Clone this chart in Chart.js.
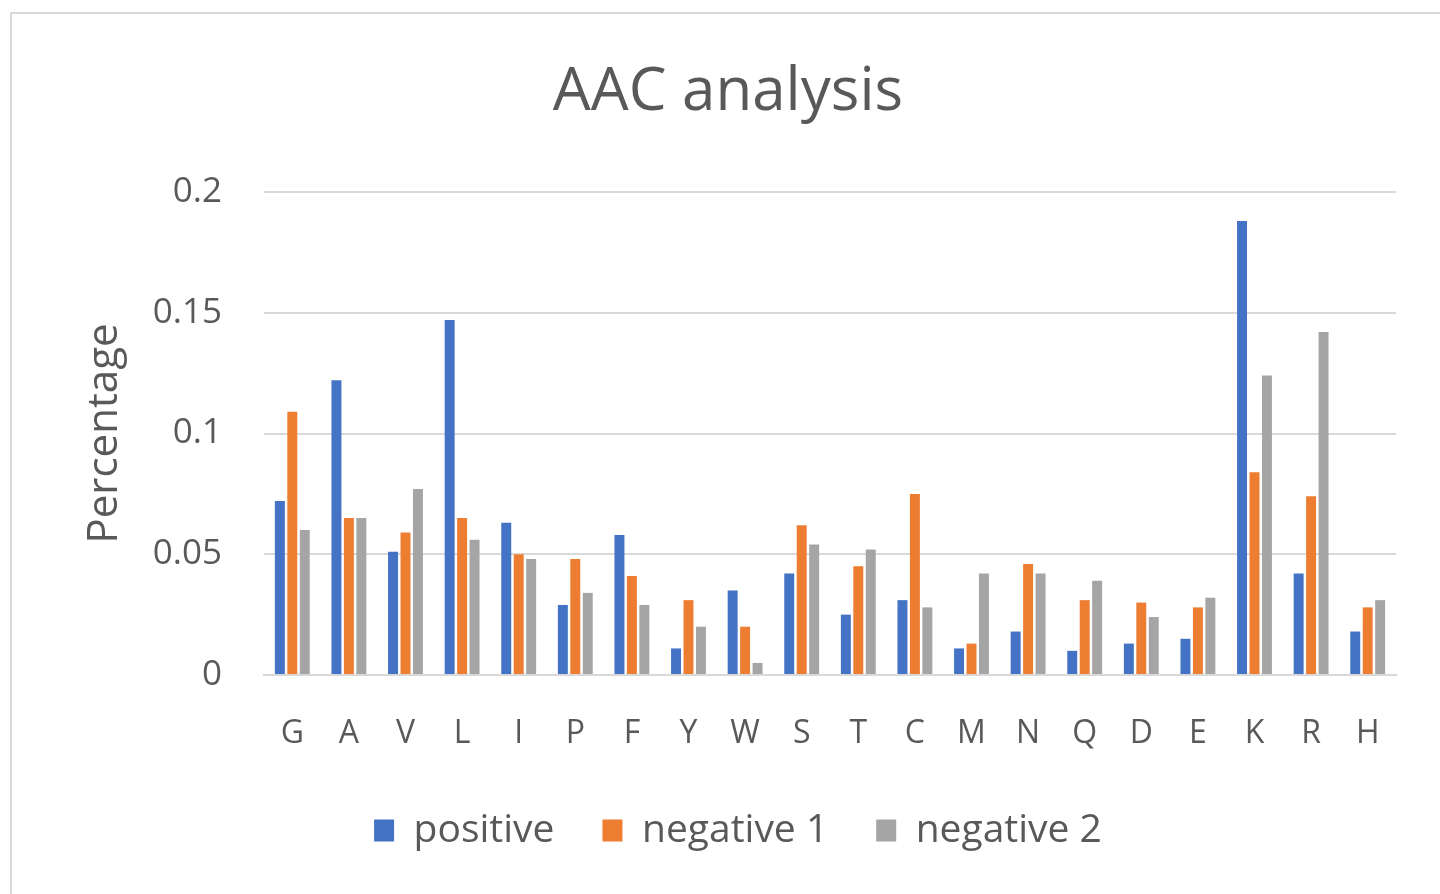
<!DOCTYPE html>
<html>
<head>
<meta charset="utf-8">
<script src="https://cdn.jsdelivr.net/npm/chart.js@4/dist/chart.umd.min.js"></script>
<style>
  html, body { margin: 0; padding: 0; background: #ffffff; }
  #wrap { position: relative; width: 1440px; height: 894px; overflow: hidden; }
  #frame { position: absolute; left: 10px; top: 12px; width: 1440px; height: 900px;
           border-left: 2px solid #d9d9d9; border-top: 2px solid #d9d9d9; pointer-events: none; }
  canvas { position: absolute; left: 0; top: 0; }
</style>
</head>
<body>
<div id="wrap">
  <canvas id="c" width="1440" height="894"></canvas>
  <div id="frame"></div>
</div>
<script>
const categories = ['G','A','V','L','I','P','F','Y','W','S','T','C','M','N','Q','D','E','K','R','H'];
const positive  = [0.072, 0.122, 0.051, 0.147, 0.063, 0.029, 0.058, 0.011, 0.035, 0.042, 0.025, 0.031, 0.011, 0.018, 0.010, 0.013, 0.015, 0.188, 0.042, 0.018];
const negative1 = [0.109, 0.065, 0.059, 0.065, 0.050, 0.048, 0.041, 0.031, 0.020, 0.062, 0.045, 0.075, 0.013, 0.046, 0.031, 0.030, 0.028, 0.084, 0.074, 0.028];
const negative2 = [0.060, 0.065, 0.077, 0.056, 0.048, 0.034, 0.029, 0.020, 0.005, 0.054, 0.052, 0.028, 0.042, 0.042, 0.039, 0.024, 0.032, 0.124, 0.142, 0.031];
const seriesNames = ['positive', 'negative 1', 'negative 2'];
const yTicks = [0, 0.05, 0.1, 0.15, 0.2];
const yTickLabels = ['0', '0.05', '0.1', '0.15', '0.2'];

const FONT = "'Open Sans', 'Noto Sans', sans-serif";
const TXT = '#595959';

const legendNudge = {
  id: 'legendNudge',
  afterLayout(chart) {
    if (chart.legend) { chart.legend.left += 10; chart.legend.right += 10; }
  }
};

new Chart(document.getElementById('c'), {
  type: 'bar',
  data: {
    labels: categories,
    datasets: [
      { label: seriesNames[0], data: positive,  backgroundColor: '#4472C4' },
      { label: seriesNames[1], data: negative1, backgroundColor: '#ED7D31' },
      { label: seriesNames[2], data: negative2, backgroundColor: '#A5A5A5' }
    ]
  },
  plugins: [legendNudge],
  options: {
    responsive: false,
    animation: false,
    devicePixelRatio: 1,
    layout: { padding: { left: 60, right: 44, top: 0, bottom: 34 } },
    datasets: { bar: { categoryPercentage: 0.66, barPercentage: 0.8 } },
    plugins: {
      title: {
        display: true,
        text: 'AAC analysis',
        color: TXT,
        font: { family: FONT, size: 60, weight: 'normal', lineHeight: 1.2 },
        padding: { top: 57, bottom: 63 }
      },
      legend: {
        position: 'bottom',
        labels: {
          color: TXT,
          font: { family: FONT, size: 39 },
          boxWidth: 20,
          boxHeight: 22,
          padding: 48
        }
      },
      tooltip: { enabled: false }
    },
    scales: {
      x: {
        grid: { display: false, drawTicks: false },
        border: { display: true, color: '#d9d9d9', width: 2 },
        ticks: { color: TXT, font: { family: FONT, size: 32 }, padding: 40, maxRotation: 0, autoSkip: false },
        afterFit: s => { s.height = 88; }
      },
      y: {
        min: 0, max: 0.2,
        afterBuildTicks: s => { s.ticks = yTicks.map(v => ({ value: v })); },
        grid: { color: '#d9d9d9', lineWidth: 2, drawTicks: false },
        border: { display: false },
        ticks: {
          color: TXT, font: { family: FONT, size: 35 }, padding: 42,
          callback: (v, i) => yTickLabels[i]
        },
        title: {
          display: true, text: 'Percentage', color: TXT,
          font: { family: FONT, size: 42 }, padding: { top: 20, bottom: 0 }
        },
        afterFit: s => { s.width = 204; }
      }
    }
  }
});
</script>
</body>
</html>
